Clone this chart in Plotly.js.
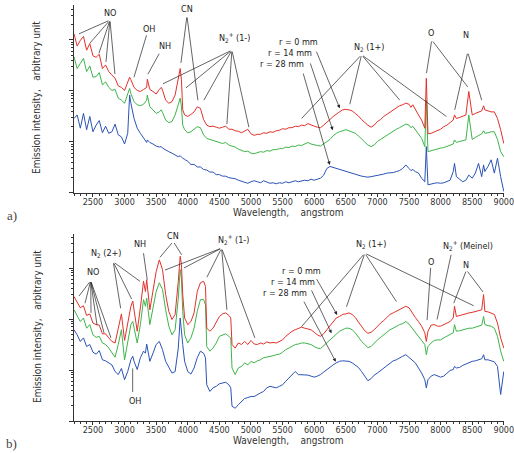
<!DOCTYPE html>
<html><head><meta charset="utf-8">
<script src="https://cdn.plot.ly/plotly-3.0.1.min.js"></script>
<style>html,body{margin:0;padding:0;background:#fff}#chart{width:514px;height:453px}</style>
</head><body><div id="chart"></div>
<script>
// ---- Panel a) : wavelength (angstrom) and log10 emission intensity (arbitrary unit) ----
const wavelengthA = [
2200,2250,2300,2350,2400,2450,2500,2550,2600,2650,
2700,2750,2800,2850,2900,2950,3000,3050,3080,3100,
3150,3200,3250,3300,3350,3360,3400,3450,3500,3550,
3580,3600,3650,3700,3750,3800,3850,3880,3900,3920,
3950,4000,4050,4100,4150,4200,4250,4300,4350,4400,
4450,4500,4550,4600,4650,4700,4750,4800,4850,4900,
4950,5000,5050,5100,5150,5200,5250,5300,5350,5400,
5450,5500,5550,5600,5650,5700,5750,5800,5850,5900,
5950,6000,6050,6100,6150,6200,6250,6300,6350,6400,
6450,6500,6550,6600,6650,6700,6750,6800,6850,6900,
6950,7000,7050,7100,7150,7200,7250,7300,7350,7400,
7450,7500,7530,7560,7600,7650,7700,7750,7774,7800,
7850,7900,7950,8000,8050,8100,8150,8200,8220,8250,
8300,8350,8400,8446,8500,8550,8600,8650,8680,8700,
8750,8800,8850,8900,8950,9000];
const logR0A = [
4.12,3.88,3.99,4.07,3.80,3.93,3.69,3.66,3.72,3.44,
3.51,3.38,3.31,3.25,3.10,3.07,3.01,3.16,3.27,3.22,
3.07,3.01,2.99,3.03,3.07,3.23,3.03,2.99,2.94,3.03,
3.07,3.02,2.82,2.76,2.79,2.92,3.22,3.44,3.22,2.63,
2.53,2.50,2.54,2.59,2.69,2.66,2.44,2.33,2.30,2.31,
2.29,2.27,2.29,2.31,2.25,2.25,2.22,2.21,2.18,2.21,
2.25,2.16,2.13,2.15,2.15,2.18,2.17,2.20,2.19,2.22,
2.23,2.26,2.25,2.28,2.28,2.31,2.30,2.33,2.32,2.36,
2.33,2.31,2.29,2.28,2.33,2.38,2.44,2.50,2.55,2.59,
2.63,2.64,2.63,2.61,2.56,2.51,2.44,2.38,2.33,2.29,
2.33,2.40,2.44,2.50,2.54,2.58,2.63,2.66,2.71,2.73,
2.76,2.74,2.68,2.73,2.63,2.53,2.43,2.27,3.25,2.16,
2.17,2.20,2.22,2.25,2.30,2.33,2.38,2.43,2.53,2.46,
2.48,2.50,2.53,2.99,2.53,2.56,2.58,2.61,2.71,2.63,
2.61,2.59,2.59,2.46,2.24,1.97];
const logR14A = [
3.67,3.44,3.54,3.64,3.38,3.49,3.27,3.28,3.36,3.12,
3.18,3.07,3.01,3.03,2.86,2.82,2.76,2.92,3.05,2.95,
2.79,2.73,2.71,2.74,2.82,2.92,2.69,2.63,2.56,2.59,
2.63,2.58,2.43,2.38,2.40,2.53,2.73,2.86,2.69,2.33,
2.24,2.18,2.20,2.25,2.30,2.28,2.14,2.07,2.05,2.04,
2.01,1.99,1.97,1.99,1.94,1.92,1.90,1.86,1.83,1.81,
1.82,1.78,1.77,1.79,1.81,1.80,1.83,1.82,1.85,1.85,
1.87,1.87,1.90,1.89,1.92,1.91,1.94,1.93,1.96,1.99,
1.96,1.94,1.93,1.92,1.96,2.01,2.05,2.12,2.17,2.20,
2.22,2.24,2.22,2.20,2.17,2.12,2.05,2.00,1.94,1.91,
1.94,2.01,2.05,2.09,2.14,2.17,2.22,2.25,2.28,2.31,
2.35,2.33,2.28,2.31,2.24,2.14,2.07,1.91,2.82,1.81,
1.83,1.84,1.86,1.88,1.89,1.91,1.93,1.96,2.04,1.99,
2.01,2.02,2.04,2.53,2.05,2.09,2.12,2.16,2.22,2.17,
2.18,2.20,2.20,2.05,1.81,1.71];
const logR28A = [
2.46,2.53,2.27,2.56,2.24,2.50,2.20,2.33,2.42,2.18,
2.31,2.17,2.20,2.35,2.14,2.10,1.96,2.17,2.92,2.76,
2.46,2.27,2.17,2.07,1.99,2.04,1.99,1.96,1.92,1.90,
1.91,1.88,1.84,1.81,1.78,1.75,1.71,1.73,1.70,1.68,
1.66,1.62,1.56,1.56,1.51,1.51,1.46,1.45,1.41,1.41,
1.36,1.36,1.33,1.33,1.30,1.29,1.28,1.25,1.23,1.21,
1.19,1.22,1.24,1.22,1.20,1.24,1.22,1.19,1.20,1.18,
1.20,1.19,1.22,1.20,1.22,1.24,1.22,1.24,1.25,1.24,
1.27,1.25,1.27,1.29,1.35,1.48,1.52,1.50,1.48,1.46,
1.44,1.42,1.40,1.39,1.37,1.35,1.33,1.32,1.31,1.32,
1.33,1.34,1.35,1.37,1.39,1.39,1.40,1.42,1.44,1.48,
1.55,1.48,1.44,1.46,1.42,1.39,1.29,1.22,1.91,1.16,
1.18,1.19,1.20,1.19,1.20,1.22,1.25,1.42,1.58,1.32,
1.27,1.22,1.25,1.35,1.29,1.39,1.58,1.32,1.55,1.42,
1.52,1.65,1.39,1.68,1.32,1.03];

// ---- Panel b) ----
const wavelengthB = [
2200,2250,2300,2350,2400,2450,2500,2550,2600,2650,
2700,2750,2800,2850,2900,2950,3000,3050,3100,3130,
3150,3200,3250,3300,3330,3350,3400,3450,3500,3550,
3600,3650,3700,3750,3800,3850,3880,3900,3920,3950,
4000,4050,4100,4150,4200,4250,4280,4300,4350,4400,
4450,4500,4550,4600,4650,4680,4700,4750,4800,4850,
4900,4950,5000,5050,5100,5150,5200,5250,5300,5350,
5400,5450,5500,5550,5600,5650,5700,5750,5800,5850,
5900,5950,6000,6050,6100,6150,6200,6250,6300,6350,
6400,6450,6500,6550,6600,6650,6700,6750,6800,6850,
6900,6950,7000,7050,7100,7150,7200,7250,7300,7350,
7400,7450,7500,7550,7600,7650,7700,7750,7774,7800,
7850,7900,7950,8000,8050,8100,8150,8200,8220,8250,
8300,8350,8400,8450,8500,8550,8600,8650,8680,8700,
8750,8800,8850,8900,8950,9000];
const logR0B = [
3.44,3.33,3.22,3.26,3.07,3.10,2.92,2.89,2.88,2.71,
2.71,2.63,2.56,2.53,2.82,3.10,2.58,2.89,3.25,3.35,
3.15,2.76,3.22,3.74,3.54,3.77,3.18,3.54,3.93,4.16,
3.97,3.48,3.15,2.99,3.09,3.74,4.23,4.07,3.48,3.02,
2.89,2.95,3.12,3.54,3.71,3.74,3.64,2.82,2.76,2.82,
2.95,3.05,3.10,3.12,3.07,3.02,2.50,2.43,2.53,2.50,
2.56,2.50,2.58,2.51,2.50,2.53,2.51,2.55,2.53,2.54,
2.53,2.56,2.59,2.66,2.71,2.76,2.79,2.82,2.84,2.82,
2.80,2.79,2.74,2.69,2.66,2.71,2.79,2.86,2.95,3.02,
3.05,3.09,3.10,3.12,3.09,3.03,2.94,2.86,2.77,2.72,
2.74,2.79,2.86,2.92,2.97,3.03,3.09,3.12,3.15,3.18,
3.22,3.25,3.22,3.12,3.03,2.95,2.86,2.73,2.56,2.76,
2.88,2.89,2.86,2.86,2.89,2.92,2.95,3.02,3.25,3.05,
3.07,3.09,3.10,3.12,3.13,3.15,3.16,3.18,3.48,3.15,
3.14,3.12,3.09,2.92,2.63,2.43];
const logR14B = [
3.18,3.05,2.95,3.02,2.82,2.89,2.69,2.64,2.66,2.53,
2.50,2.43,2.35,2.25,2.50,2.79,2.20,2.56,2.89,2.95,
2.82,2.53,2.89,3.38,3.25,3.41,2.89,3.22,3.54,3.71,
3.58,3.18,2.86,2.69,2.79,3.41,3.97,3.80,3.15,2.69,
2.53,2.63,2.82,3.15,3.38,3.38,3.28,2.46,2.37,2.43,
2.53,2.66,2.69,2.71,2.66,2.63,2.04,1.91,2.04,2.07,
2.14,2.10,2.17,2.14,2.18,2.20,2.24,2.25,2.27,2.28,
2.30,2.31,2.35,2.40,2.43,2.46,2.50,2.51,2.53,2.53,
2.52,2.50,2.46,2.43,2.42,2.48,2.53,2.59,2.66,2.71,
2.76,2.79,2.82,2.82,2.79,2.73,2.64,2.56,2.50,2.44,
2.46,2.53,2.59,2.64,2.69,2.74,2.79,2.82,2.86,2.89,
2.91,2.95,2.90,2.82,2.74,2.66,2.59,2.50,2.30,2.46,
2.53,2.58,2.59,2.59,2.63,2.66,2.69,2.73,2.89,2.76,
2.77,2.79,2.80,2.82,2.82,2.84,2.85,2.88,3.05,2.89,
2.87,2.86,2.82,2.66,2.37,2.17];
const logR28B = [
2.79,2.69,2.56,2.63,2.46,2.50,2.35,2.31,2.38,2.20,
2.18,2.14,2.10,1.97,1.91,2.03,1.81,1.97,2.20,2.27,
2.17,2.01,2.24,2.37,2.33,2.51,2.17,2.33,2.50,2.56,
2.40,2.17,2.04,1.94,1.97,2.43,3.02,2.82,2.50,2.17,
1.97,1.92,2.04,2.24,2.37,2.33,2.24,1.71,1.58,1.65,
1.68,1.73,1.75,1.76,1.71,1.65,1.29,1.25,1.32,1.39,
1.44,1.46,1.48,1.48,1.52,1.55,1.58,1.65,1.68,1.66,
1.65,1.68,1.71,1.78,1.84,1.91,1.97,1.91,1.91,1.91,
1.90,1.88,1.86,1.88,1.91,1.96,2.01,2.05,2.10,2.14,
2.17,2.18,2.18,2.17,2.14,2.10,2.05,1.97,1.88,1.79,
1.83,1.90,1.94,1.99,2.04,2.09,2.14,2.18,2.20,2.24,
2.27,2.30,2.25,2.20,2.14,2.04,1.94,1.81,1.65,1.81,
1.88,1.91,1.88,1.86,1.88,1.94,1.99,2.01,2.07,2.04,
2.05,2.09,2.12,2.14,2.17,2.18,2.20,2.22,2.30,2.20,
2.20,2.18,2.16,2.07,1.52,1.97];
const xTickVals = [2500, 3000, 3500, 4000, 4500, 5000, 5500, 6000, 6500, 7000, 7500, 8000, 8500, 9000];

const RED = '#e3312a', GREEN = '#3db54a', BLUE = '#2b53b6', INK = '#333';
const FONT = 'Liberation Sans Narrow, DejaVu Sans Condensed, Liberation Sans, Arial, sans-serif';
const pow10 = a => a.map(v => Math.pow(10, v));

function spectrum(x, logY, color, xa, ya, name) {
  return {x: x, y: pow10(logY), type: 'scatter', mode: 'lines', name: name,
    line: {color: color, width: 1}, xaxis: xa, yaxis: ya, showlegend: false, hoverinfo: 'skip'};
}
const data = [
  spectrum(wavelengthA, logR28A, BLUE, 'x', 'y', 'r = 28 mm'),
  spectrum(wavelengthA, logR14A, GREEN, 'x', 'y', 'r = 14 mm'),
  spectrum(wavelengthA, logR0A, RED, 'x', 'y', 'r = 0 mm'),
  spectrum(wavelengthB, logR28B, BLUE, 'x2', 'y2', 'r = 28 mm'),
  spectrum(wavelengthB, logR14B, GREEN, 'x2', 'y2', 'r = 14 mm'),
  spectrum(wavelengthB, logR0B, RED, 'x2', 'y2', 'r = 0 mm')
];

const minorY = [];
[10, 100, 1000, 10000].forEach(d => { for (let k = 2; k <= 9; k++) minorY.push(k * d); });

function xAxis(anchor) {
  return {anchor: anchor, domain: [0, 1], range: [2200, 9003], tickmode: 'array', tickvals: xTickVals,
    ticktext: xTickVals.map(String), ticklabeloverflow: 'allow',
    ticks: 'outside', ticklen: 3, tickwidth: 1, tickcolor: INK, showline: true, linecolor: INK, linewidth: 1,
    ticklabelstandoff: -3,
    showgrid: false, zeroline: false, tickfont: {family: FONT, size: 9, color: INK},
    minor: {tickmode: 'linear', tick0: 2200, dtick: 100, ticks: 'outside', ticklen: 2, tickwidth: 1, tickcolor: INK, showgrid: false}};
}
function yAxis(anchor, domain, range) {
  return {anchor: anchor, domain: domain, type: 'log', range: range, showline: true, linecolor: INK, linewidth: 1,
    showgrid: false, zeroline: false, showticklabels: false, ticks: 'outside', ticklen: 4, tickwidth: 1, tickcolor: INK,
    tickmode: 'array', tickvals: [10, 100, 1000, 10000],
    minor: {tickmode: 'array', tickvals: minorY, ticks: 'outside', ticklen: 2, tickwidth: 1, tickcolor: INK, showgrid: false}};
}

// annotation helpers (log axes: y given as log10)
function label(xr, yr, x, y, text) {
  return {xref: xr, yref: yr, x: x, y: y, text: text, showarrow: false, xanchor: 'center', yanchor: 'middle',
    font: {family: FONT, size: 9, color: '#222'}};
}
function fan(xr, yr, apex, ends, head) {
  return ends.map(e => ({xref: xr, yref: yr, axref: xr, ayref: yr, x: e[0], y: e[1], ax: apex[0], ay: apex[1],
    text: '', showarrow: true, arrowhead: head ? 2 : 0, arrowsize: 1, arrowwidth: 0.7, arrowcolor: '#222',
    standoff: 0, startstandoff: 0}));
}
function paperText(x, y, text, opts) {
  return Object.assign({xref: 'paper', yref: 'paper', x: x, y: y, text: text, showarrow: false,
    xanchor: 'center', yanchor: 'middle', font: {family: FONT, size: 10, color: INK}}, opts || {});
}
const N2p = 'N<sub>2</sub><sup>+</sup>';
const N2 = 'N<sub>2</sub>';
const sp = '\u00a0';

const ann = [].concat(
  // panel a labels
  label('x', 'y', 2769, 4.53, 'NO'),
  fan('x', 'y', [2769, 4.39], [[2279, 4.12], [2453, 3.94], [2595, 3.74], [2706, 3.57], [2848, 3.33]]),
  label('x', 'y', 3386, 4.21, 'OH'),
  fan('x', 'y', [3354, 4.12], [[3149, 3.27]]),
  label('x', 'y', 3639, 3.88, 'NH'),
  fan('x', 'y', [3560, 3.76], [[3370, 3.33]]),
  label('x', 'y', 3987, 4.61, 'CN'),
  fan('x', 'y', [3987, 4.47], [[3892, 3.55], [4160, 2.82]]),
  label('x', 'y', 4740, 4.04, N2p + ' (1-)'),
  fan('x', 'y', [4698, 3.80], [[3607, 3.14], [3971, 3.06], [4255, 2.82], [4619, 2.35], [4967, 2.29]]),
  label('x', 'y', 6880, 3.86, N2 + ' (1+)'),
  fan('x', 'y', [6749, 3.71], [[5800, 2.46], [6564, 2.74], [7354, 2.82], [8092, 2.50]]),
  label('x', 'y', 7855, 4.13, 'O'),
  fan('x', 'y', [7860, 4.00], [[7777, 3.35], [8429, 3.08]]),
  label('x', 'y', 8408, 4.10, 'N'),
  fan('x', 'y', [8429, 3.76], [[8224, 2.63], [8650, 2.82]]),
  label('x', 'y', 5746, 3.955, 'r = 0 mm'),
  label('x', 'y', 5615, 3.74, 'r = 14 mm'),
  label('x', 'y', 5484, 3.53, 'r = 28 mm'),
  fan('x', 'y', [6026, 3.80], [[6405, 2.66]], true),
  fan('x', 'y', [5931, 3.57], [[6295, 2.23]], true),
  fan('x', 'y', [5820, 3.37], [[6247, 1.55]], true),
  // panel b labels
  label('x2', 'y2', 2505, 3.93, 'NO'),
  fan('x2', 'y2', [2464, 3.75], [[2279, 3.45], [2374, 3.31], [2469, 3.12], [2564, 2.88], [2674, 2.73], [2785, 2.63]]),
  label('x2', 'y2', 2717, 4.29, N2 + ' (2+)'),
  fan('x2', 'y2', [2821, 4.12], [[2938, 3.21], [3112, 3.39], [3243, 3.74]]),
  label('x2', 'y2', 3243, 4.47, 'NH'),
  fan('x2', 'y2', [3296, 4.32], [[3359, 3.77]]),
  label('x2', 'y2', 3770, 4.63, 'CN'),
  fan('x2', 'y2', [3770, 4.52], [[3560, 4.21], [3903, 4.26]]),
  label('x2', 'y2', 4719, 4.55, N2p + ' (1-)'),
  fan('x2', 'y2', [4535, 4.39], [[3639, 3.96], [3939, 4.00], [4303, 3.82], [4619, 3.18], [5062, 2.63]]),
  label('x2', 'y2', 6907, 4.47, N2 + ' (1+)'),
  fan('x2', 'y2', [6801, 4.29], [[5800, 2.85], [6511, 3.24], [7302, 3.34], [8524, 3.26]]),
  label('x2', 'y2', 7855, 4.11, 'O'),
  fan('x2', 'y2', [7844, 4.03], [[7786, 2.98]]),
  label('x2', 'y2', 8434, 4.45, N2p + ' (Meinel)'),
  fan('x2', 'y2', [8171, 4.29], [[7944, 2.99]]),
  label('x2', 'y2', 8408, 4.06, 'N'),
  fan('x2', 'y2', [8409, 3.96], [[8208, 3.31], [8671, 3.53]]),
  label('x2', 'y2', 3164, 1.40, 'OH'),
  fan('x2', 'y2', [3128, 1.54], [[3128, 2.03]]),
  label('x2', 'y2', 5800, 3.947, 'r = 0 mm'),
  label('x2', 'y2', 5667, 3.72, 'r = 14 mm'),
  label('x2', 'y2', 5536, 3.504, 'r = 28 mm'),
  fan('x2', 'y2', [6026, 3.81], [[6364, 3.08]], true),
  fan('x2', 'y2', [5947, 3.59], [[6274, 2.72]], true),
  fan('x2', 'y2', [5825, 3.37], [[6342, 2.16]], true),
  // titles
  paperText(-0.086, 0.7837, 'Emission intensity,' + sp + sp + sp + 'arbitrary unit', {textangle: -90}),
  paperText(-0.086, 0.2781, 'Emission intensity,' + sp + sp + sp + 'arbitrary unit', {textangle: -90}),
  paperText(0.4977, 0.5320, 'Wavelength,' + sp + sp + sp + sp + 'angstrom'),
  paperText(0.4977, 0.0265, 'Wavelength,' + sp + sp + sp + sp + 'angstrom'),
  paperText(-0.1442, 0.5232, 'a)', {font: {family: 'Liberation Serif, DejaVu Serif, serif', size: 13, color: '#444'}}),
  paperText(-0.1442, 0.0199, 'b)', {font: {family: 'Liberation Serif, DejaVu Serif, serif', size: 13, color: '#444'}})
);

const layout = {
  width: 514, height: 453, margin: {l: 74, r: 10, t: 0, b: 0},
  paper_bgcolor: '#fff', plot_bgcolor: '#fff', showlegend: false,
  xaxis: xAxis('y'), yaxis: yAxis('x', [0.5740, 0.9890], [1, 4.686]),
  xaxis2: xAxis('y2'), yaxis2: yAxis('x2', [0.07064, 0.48344], [1, 4.667]),
  annotations: ann
};
Plotly.newPlot('chart', data, layout, {staticPlot: true, displayModeBar: false});
</script></body></html>
